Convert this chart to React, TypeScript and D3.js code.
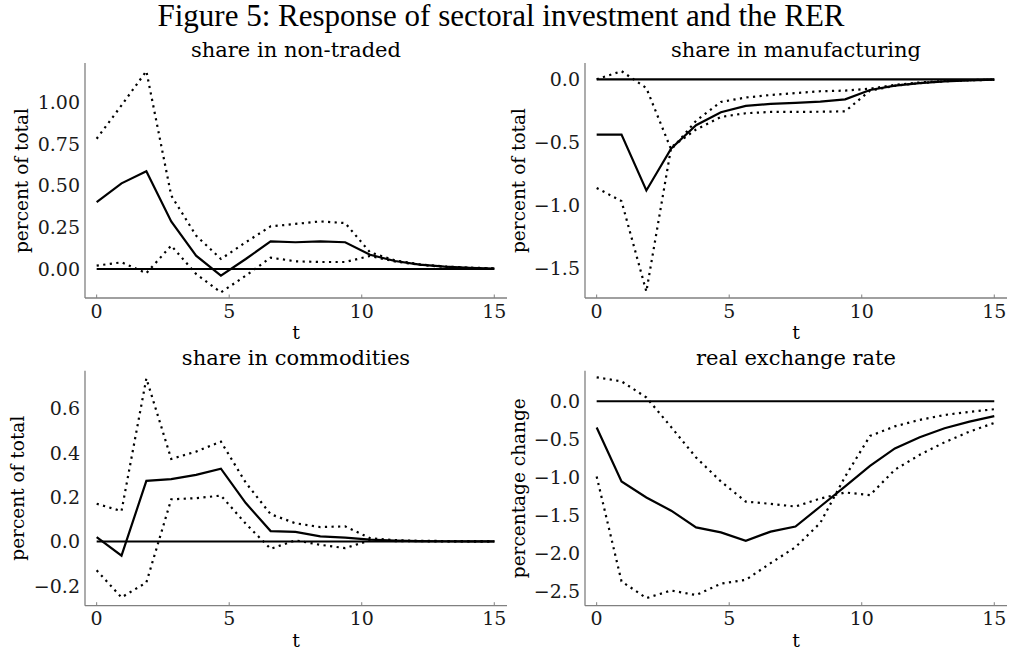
import React from "react";
import * as d3 from "d3";

const W = 1009;
const H = 652;

// time grid (17 periods spanning 0..15)
const tGrid = [0, 0.9375, 1.875, 2.8125, 3.75, 4.6875, 5.625, 6.5625, 7.5, 8.4375, 9.375, 10.3125, 11.25, 12.1875, 13.125, 14.0625, 15];
const xTicks = [0, 5, 10, 15];

// share in non-traded
const nonTradedMean = [0.40, 0.513, 0.585, 0.285, 0.08, -0.04, 0.06, 0.165, 0.16, 0.165, 0.16, 0.085, 0.048, 0.026, 0.014, 0.007, 0.003];
const nonTradedUpper = [0.78, 0.98, 1.185, 0.44, 0.20, 0.06, 0.16, 0.255, 0.27, 0.285, 0.275, 0.10, 0.052, 0.028, 0.015, 0.008, 0.004];
const nonTradedLower = [0.02, 0.04, -0.025, 0.14, -0.03, -0.14, -0.04, 0.068, 0.046, 0.042, 0.042, 0.078, 0.045, 0.025, 0.013, 0.006, 0.002];
const nonTradedTicks = [0, 0.25, 0.5, 0.75, 1.0];

// share in manufacturing
const mfgMean = [-0.44, -0.44, -0.885, -0.55, -0.365, -0.262, -0.212, -0.195, -0.188, -0.178, -0.16, -0.085, -0.05, -0.03, -0.016, -0.008, -0.003];
const mfgUpper = [0.0, 0.065, -0.07, -0.56, -0.33, -0.18, -0.145, -0.125, -0.11, -0.095, -0.09, -0.075, -0.045, -0.025, -0.013, -0.006, -0.003];
const mfgLower = [-0.865, -0.97, -1.69, -0.54, -0.40, -0.30, -0.27, -0.26, -0.26, -0.258, -0.255, -0.09, -0.052, -0.03, -0.016, -0.008, -0.004];
const mfgTicks = [0, -0.5, -1.0, -1.5];

// share in commodities
const comMean = [0.02, -0.064, 0.273, 0.281, 0.30, 0.328, 0.173, 0.047, 0.043, 0.023, 0.017, 0.008, 0.004, 0.002, 0.001, 0.0005, 0.0002];
const comUpper = [0.17, 0.137, 0.735, 0.372, 0.405, 0.45, 0.265, 0.123, 0.082, 0.065, 0.068, 0.015, 0.006, 0.003, 0.002, 0.001, 0.0005];
const comLower = [-0.13, -0.252, -0.185, 0.19, 0.195, 0.207, 0.08, -0.033, 0.005, -0.015, -0.03, 0.005, 0.002, 0.001, 0.0005, 0.0002, 0.0001];
const comTicks = [-0.2, 0, 0.2, 0.4, 0.6];

// real exchange rate
const rerMean = [-0.345, -1.056, -1.266, -1.44, -1.66, -1.725, -1.836, -1.715, -1.648, -1.385, -1.12, -0.85, -0.62, -0.473, -0.355, -0.268, -0.195];
const rerBandA = [0.315, 0.262, 0.05, -0.34, -0.74, -1.056, -1.32, -1.35, -1.385, -1.28, -1.20, -1.235, -0.90, -0.705, -0.54, -0.40, -0.285];
const rerBandB = [-0.99, -2.37, -2.59, -2.49, -2.55, -2.40, -2.35, -2.13, -1.92, -1.60, -0.99, -0.456, -0.33, -0.245, -0.18, -0.14, -0.105];
const rerTicks = [0, -0.5, -1.0, -1.5, -2.0, -2.5];

const FONT = "'DejaVu Serif', serif";
const SPINE = "#808080";

type PanelDef = {
  title: string;
  ylabel: string;
  mean: number[];
  bands: number[][];
  yDomain: [number, number];
  ticks: number[];
  decimals: number;
  left: number;
  top: number;
  ylabelX: number;
};

const PW = 422;
const PH = 235;

const panels: PanelDef[] = [
  { title: "share in non-traded", ylabel: "percent of total", mean: nonTradedMean, bands: [nonTradedUpper, nonTradedLower], yDomain: [-0.1737, 1.2335], ticks: nonTradedTicks, decimals: 2, left: 85, top: 63, ylabelX: 28 },
  { title: "share in manufacturing", ylabel: "percent of total", mean: mfgMean, bands: [mfgUpper, mfgLower], yDomain: [-1.741, 0.1298], ticks: mfgTicks, decimals: 1, left: 585, top: 63, ylabelX: 525 },
  { title: "share in commodities", ylabel: "percent of total", mean: comMean, bands: [comUpper, comLower], yDomain: [-0.2894, 0.7696], ticks: comTicks, decimals: 1, left: 85, top: 370.7, ylabelX: 24 },
  { title: "real exchange rate", ylabel: "percentage change", mean: rerMean, bands: [rerBandA, rerBandB], yDomain: [-2.69, 0.402], ticks: rerTicks, decimals: 1, left: 585, top: 370.7, ylabelX: 525 },
];

function fmt(v: number, d: number) {
  const s = Math.abs(v).toFixed(d);
  return (v < 0 ? "\u2212" : "") + s;
}

function Panel({ p }: { p: PanelDef }) {
  const x = d3.scaleLinear().domain([-0.44, 15.48]).range([p.left, p.left + PW]);
  const y = d3.scaleLinear().domain(p.yDomain).range([p.top + PH, p.top]);
  const line = d3
    .line<number>()
    .x((_, i) => x(tGrid[i]))
    .y((v) => y(v));
  const zero = tGrid.map(() => 0);
  const bottom = p.top + PH;
  const cx = p.left + PW / 2;
  return (
    <g>
      <text x={cx} y={p.top - 6} textAnchor="middle" fontFamily={FONT} fontSize={21} fill="#000">
        {p.title}
      </text>
      {/* spines */}
      <line x1={p.left} x2={p.left} y1={p.top} y2={bottom} stroke={SPINE} strokeWidth={1.3} />
      <line x1={p.left} x2={p.left + PW} y1={bottom} y2={bottom} stroke={SPINE} strokeWidth={1.3} />
      {xTicks.map((t) => (
        <g key={t}>
          <line x1={x(t)} x2={x(t)} y1={bottom} y2={bottom - 3.5} stroke={SPINE} strokeWidth={1} />
          <text x={x(t)} y={bottom + 19.5} textAnchor="middle" fontFamily={FONT} fontSize={19} fill="#1a1a1a">
            {String(t)}
          </text>
        </g>
      ))}
      {p.ticks.map((v) => (
        <text key={v} x={p.left - 5} y={y(v)} dy="0.36em" textAnchor="end" fontFamily={FONT} fontSize={19} fill="#1a1a1a">
          {fmt(v, p.decimals)}
        </text>
      ))}
      <text x={cx} y={bottom + 41} textAnchor="middle" fontFamily={FONT} fontSize={19} fill="#000">
        t
      </text>
      <text
        transform={`translate(${p.ylabelX},${p.top + PH / 2}) rotate(-90)`}
        textAnchor="middle"
        fontFamily={FONT}
        fontSize={18.5}
        fill="#000"
      >
        {p.ylabel}
      </text>
      {/* data */}
      <path d={line(zero) || ""} fill="none" stroke="#000" strokeWidth={2.2} />
      {p.bands.map((b, i) => (
        <path key={i} d={line(b) || ""} fill="none" stroke="#000" strokeWidth={2.2} strokeDasharray="2.2,4.4" />
      ))}
      <path d={line(p.mean) || ""} fill="none" stroke="#000" strokeWidth={2.2} strokeLinejoin="miter" />
    </g>
  );
}

export default function App() {
  return (
    <svg width={W} height={H} style={{ position: "absolute", left: 0, top: 0, background: "#fff" }}>
      <rect width={W} height={H} fill="#fff" />
      <text x={501} y={26} textAnchor="middle" fontFamily="'Liberation Serif', 'Times New Roman', serif" fontSize={31} fill="#000">
        Figure 5: Response of sectoral investment and the RER
      </text>
      {panels.map((p, i) => (
        <Panel key={i} p={p} />
      ))}
    </svg>
  );
}
